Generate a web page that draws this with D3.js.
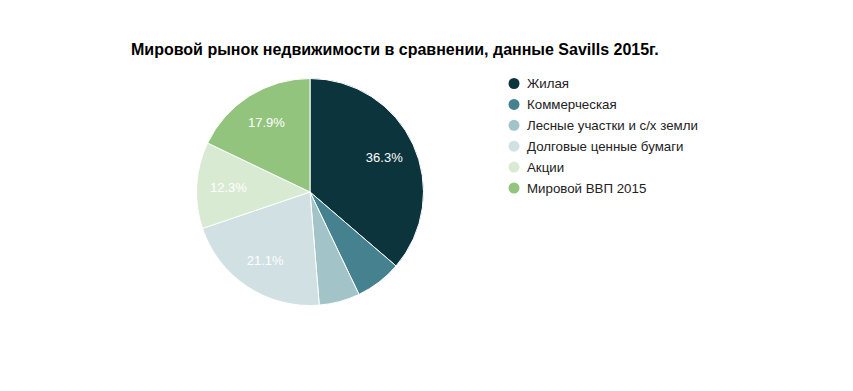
<!DOCTYPE html>
<html>
<head>
<meta charset="utf-8">
<script src="https://cdn.jsdelivr.net/npm/d3@7"></script>
<style>
  body { margin: 0; background: #fff; }
  svg { display: block; font-family: "Liberation Sans", Arial, sans-serif; }
</style>
</head>
<body>
<div id="chart"></div>
<script>
// shares of the world real estate market, Savills 2015
var categories = ["Жилая", "Коммерческая", "Лесные участки и с/х земли", "Долговые ценные бумаги", "Акции", "Мировой ВВП 2015"];
var values = [36.3, 6.6, 5.8, 21.1, 12.3, 17.9];
var colors = ["#0c343d", "#45818e", "#a2c4c9", "#d0e0e3", "#d9ead3", "#93c47d"];
var title = "Мировой рынок недвижимости в сравнении, данные Savills 2015г.";

var width = 853, height = 391;
var cx = 310, cy = 192, radius = 113.5;

var svg = d3.select("#chart")
    .append("svg")
    .attr("width", width)
    .attr("height", height);

svg.append("text")
    .attr("x", 131)
    .attr("y", 55)
    .attr("font-size", 16)
    .attr("font-weight", "bold")
    .attr("fill", "#000")
    .text(title);

var data = categories.map(function (c, i) {
    return { name: c, value: values[i], color: colors[i] };
});

var pie = d3.pie()
    .sort(null)
    .value(function (d) { return d.value; });

var arc = d3.arc().innerRadius(0).outerRadius(radius);
var labelArc = d3.arc().innerRadius(radius * 0.72).outerRadius(radius * 0.72);

var g = svg.append("g").attr("transform", "translate(" + cx + "," + cy + ")");

var slices = g.selectAll("g.slice")
    .data(pie(data))
    .enter()
    .append("g")
    .attr("class", "slice");

slices.append("path")
    .attr("d", arc)
    .attr("fill", function (d) { return d.data.color; })
    .attr("stroke", "#fff")
    .attr("stroke-width", 1);

// only slices big enough get a label
slices.filter(function (d) { return d.data.value >= 10; })
    .append("text")
    .attr("transform", function (d) { return "translate(" + labelArc.centroid(d) + ")"; })
    .attr("text-anchor", "middle")
    .attr("dy", "0.35em")
    .attr("font-size", 13)
    .attr("fill", "#fff")
    .text(function (d) { return d.data.value.toFixed(1) + "%"; });

var legend = svg.append("g").attr("transform", "translate(514,83.5)");

var items = legend.selectAll("g")
    .data(data)
    .enter()
    .append("g")
    .attr("transform", function (d, i) { return "translate(0," + (i * 20.9) + ")"; });

items.append("circle")
    .attr("r", 5.5)
    .attr("fill", function (d) { return d.color; });

items.append("text")
    .attr("x", 13)
    .attr("dy", "0.35em")
    .attr("font-size", 13.3)
    .attr("fill", "#222")
    .text(function (d) { return d.name; });
</script>
</body>
</html>
